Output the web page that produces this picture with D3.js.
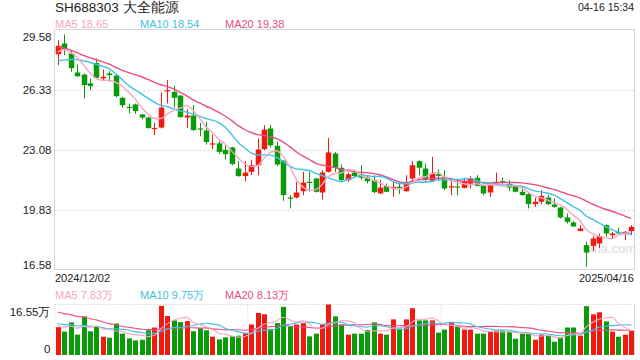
<!DOCTYPE html>
<html><head><meta charset="utf-8">
<script src="https://cdn.jsdelivr.net/npm/d3@7/dist/d3.min.js"></script>
<style>
html,body{margin:0;padding:0;background:#fff;}
svg{display:block;font-family:Arial,"Liberation Sans",sans-serif;}
</style></head>
<body><svg id="c" width="640" height="360"></svg>
<script>
const title = "SH688303 大全能源";
const timeStamp = "04-16 15:34";
const dates = ["2024/12/02","2024/12/03","2024/12/04","2024/12/05","2024/12/06","2024/12/09","2024/12/10","2024/12/11","2024/12/12","2024/12/13","2024/12/16","2024/12/17","2024/12/18","2024/12/19","2024/12/20","2024/12/23","2024/12/24","2024/12/25","2024/12/26","2024/12/27","2024/12/30","2024/12/31",
"2025/01/02","2025/01/03","2025/01/06","2025/01/07","2025/01/08","2025/01/09","2025/01/10","2025/01/13","2025/01/14","2025/01/15","2025/01/16","2025/01/17","2025/01/20","2025/01/21","2025/01/22","2025/01/23","2025/01/24","2025/01/27",
"2025/02/05","2025/02/06","2025/02/07","2025/02/10","2025/02/11","2025/02/12","2025/02/13","2025/02/14","2025/02/17","2025/02/18","2025/02/19","2025/02/20","2025/02/21","2025/02/24","2025/02/25","2025/02/26","2025/02/27","2025/02/28",
"2025/03/03","2025/03/04","2025/03/05","2025/03/06","2025/03/07","2025/03/10","2025/03/11","2025/03/12","2025/03/13","2025/03/14","2025/03/17","2025/03/18","2025/03/19","2025/03/20","2025/03/21","2025/03/24","2025/03/25","2025/03/26","2025/03/27","2025/03/28","2025/03/31",
"2025/04/01","2025/04/02","2025/04/03","2025/04/07","2025/04/08","2025/04/09","2025/04/10","2025/04/11","2025/04/14","2025/04/15","2025/04/16"];
const open = [28.24,28.82,28.28,27.25,27.14,26.66,27.77,26.93,27.20,27.09,25.88,25.39,25.52,24.98,24.81,24.20,24.27,26.24,26.20,26.00,
24.81,24.92,24.22,24.11,23.35,23.41,23.06,23.19,22.05,21.64,21.87,22.23,23.10,24.22,23.28,22.47,20.48,20.48,20.82,21.33,
21.51,20.75,21.87,22.86,22.09,21.42,21.83,21.73,21.56,21.42,20.70,21.11,20.97,21.06,20.82,21.51,22.45,22.05,21.38,21.74,
21.60,21.02,21.08,21.00,21.15,21.55,21.15,20.75,21.29,21.37,21.22,21.11,20.79,20.66,20.12,20.25,20.48,20.10,19.94,19.40,
19.13,18.66,17.90,17.86,17.99,18.98,18.44,18.60,18.58,18.66];
const high = [29.00,29.31,28.46,27.68,27.20,26.93,28.01,27.41,27.32,27.14,25.93,25.57,25.57,25.01,24.85,24.52,26.17,26.84,26.53,26.02,
25.26,25.48,24.52,24.58,23.89,23.53,23.31,23.22,22.45,22.45,22.50,23.68,24.40,24.40,23.50,22.50,20.61,21.33,21.87,21.87,
21.55,21.96,23.71,22.95,22.27,21.83,21.96,22.23,21.69,21.69,21.42,21.24,21.37,21.29,21.69,22.45,22.50,22.32,22.68,22.00,
21.96,21.42,21.42,21.55,21.64,21.69,21.18,21.18,21.82,21.55,21.42,21.11,21.06,20.73,20.46,20.88,20.61,20.43,19.97,19.61,
19.20,18.98,18.08,18.40,18.53,19.02,18.62,18.84,18.67,18.98];
const low = [27.65,28.19,27.29,27.02,25.84,26.29,26.93,26.78,26.75,25.90,25.34,25.03,25.01,24.72,24.22,23.86,24.22,25.57,25.35,24.81,
24.25,24.09,23.80,23.35,23.10,22.85,22.54,22.23,21.60,21.36,21.69,21.69,23.04,23.19,22.18,20.30,19.89,20.43,20.61,20.79,
20.75,20.37,21.83,21.87,21.33,21.33,21.55,21.42,21.24,20.71,20.66,20.77,20.52,20.66,20.79,21.22,21.69,21.33,21.33,21.37,
20.88,20.61,20.61,20.97,20.97,21.08,20.61,20.52,21.29,21.22,20.82,20.75,20.57,19.89,19.97,20.12,20.07,19.92,19.34,19.07,
18.91,18.66,16.72,17.57,17.75,18.35,18.26,18.53,18.17,18.44];
const close = [28.70,28.51,27.49,27.05,26.57,26.51,26.96,27.02,27.11,25.97,25.48,25.34,25.16,24.81,24.24,24.25,25.35,26.29,25.88,24.83,
24.92,24.13,24.16,23.48,23.41,22.95,22.83,22.29,21.64,21.83,22.23,23.08,24.16,23.31,22.27,20.61,20.43,20.75,21.29,21.27,
20.79,21.83,22.92,22.09,21.42,21.74,21.64,21.55,21.36,20.77,21.02,20.79,21.06,21.00,21.29,22.23,22.09,21.42,21.78,21.65,
20.97,21.09,21.02,21.38,21.51,21.11,20.70,21.15,21.33,21.29,21.02,20.79,20.61,20.12,20.25,20.57,20.12,19.97,19.40,19.16,
18.91,18.80,17.50,18.26,18.39,18.53,18.53,18.57,18.62,18.89];
// volume, unit 万手
const volume = [9.11,7.67,10.67,6.67,12.67,7.78,9.55,6.00,5.67,10.33,7.00,5.44,4.78,5.00,8.11,9.00,16.11,12.78,11.33,10.78,
11.11,7.78,8.78,8.11,6.00,5.11,5.78,6.11,6.33,7.11,10.00,13.78,13.33,8.55,10.44,15.78,9.33,10.00,10.44,6.11,
7.00,10.00,16.55,12.67,10.00,6.67,7.00,7.00,8.22,10.67,7.00,6.67,11.67,8.67,11.67,15.33,11.33,11.33,11.33,7.33,
8.33,10.67,9.33,8.33,8.33,7.00,7.00,7.67,8.00,8.00,7.67,5.33,7.00,7.00,5.00,6.67,6.33,4.33,5.67,9.00,
9.00,6.33,16.00,13.33,14.00,11.00,7.67,6.00,6.67,8.00];
// sessions before 2024/12/02, estimated from where the MA lines start
const prevCloses = [29.8,29.6,29.9,29.5,29.2,29.0,29.3,29.6,29.4,28.7,27.9,27.3,27.1,27.2,27.45,27.9,28.2,28.4,28.6];
const prevVolumes = [18.5,17.2,19.0,16.8,18.1,17.5,18.9,17.0,18.3,17.7,11.2,10.5,11.4,10.6,10.9,10.2,9.6,9.9,9.7];
const priceTicks = [29.58,26.33,23.08,19.83,16.58];
const volTicks = [16.55,0];
const maPeriods = [5,10,20];
const maLegend = ["18.65","18.54","19.38"];
const volMaLegend = ["7.83万","9.75万","8.13万"];

const maColors = ["#f7a5c4","#3fc3e4","#ea4c84"];
const upColor = "#f2190f", downColor = "#0a9a0a";

const svg = d3.select("#c");
const L = 54.5, R = 634.5, T = 29.5, B = 269.5;
const VT = 304.5, VB = 355;

const idx = d3.range(close.length);
const x = d3.scaleBand().domain(idx).range([L, R]).paddingInner(0.2).paddingOuter(0.1);
const cx = i => x(i) + x.bandwidth()/2;
const y = d3.scaleLinear().domain([priceTicks[4], priceTicks[0]]).range([B, T]);
const yv = d3.scaleLinear().domain([0, volTicks[0]]).range([VB, VT]);

function movingAvg(prev, arr, n){
  const all = prev.concat(arr);
  const off = prev.length;
  return arr.map((_, i) => d3.mean(all.slice(off + i - n + 1, off + i + 1)));
}

// header
svg.append("text").attr("x", 55).attr("y", 12).attr("font-size", 13.5).attr("fill", "#222").text(title);
svg.append("text").attr("x", 634).attr("y", 11).attr("text-anchor","end").attr("font-size", 10.5).attr("fill", "#222").text(timeStamp);
const legX = [55, 140, 225];
maPeriods.forEach((p, k) => {
  svg.append("text").attr("x", legX[k]).attr("y", 27.5).attr("font-size", 11).attr("fill", maColors[k]).text("MA" + p + " " + maLegend[k]);
  svg.append("text").attr("x", legX[k]).attr("y", 299).attr("font-size", 11).attr("fill", maColors[k]).text("MA" + p + " " + volMaLegend[k]);
});

// price grid
const yAxis = d3.axisLeft(y).tickValues(priceTicks).tickSize(0).tickFormat(d3.format(".2f"));
const gy = svg.append("g").attr("transform", `translate(${L},0)`).call(yAxis);
gy.select(".domain").remove();
gy.selectAll("text").attr("font-size", 11.5).attr("fill", "#222").attr("x", -3)
  .attr("dy", (d, i) => i === 0 ? "0.95em" : (i === priceTicks.length - 1 ? "-0.1em" : "0.32em"))
  .style("font-family", "Arial,'Liberation Sans',sans-serif");
svg.append("g").selectAll("line").data(priceTicks.slice(1, 4)).join("line")
  .attr("x1", L + 1).attr("x2", R - 1).attr("y1", d => Math.round(y(d)) + 0.5).attr("y2", d => Math.round(y(d)) + 0.5)
  .attr("stroke", "#e2e2e2").attr("stroke-width", 1.3).attr("stroke-dasharray", "2,2");
svg.append("rect").attr("x", L).attr("y", T).attr("width", R - L).attr("height", B - T)
  .attr("fill", "none").attr("stroke", "#d6d6d6").attr("stroke-width", 1);

// watermark
svg.append("text").attr("x", 584).attr("y", 253).attr("font-size", 13).attr("fill", "#d9d9d9").text("sina.com");

// candles
const g = svg.append("g");
g.selectAll("line.w").data(idx).join("line").attr("class","w")
  .attr("x1", i => Math.round(cx(i)) + 0.5).attr("x2", i => Math.round(cx(i)) + 0.5)
  .attr("y1", i => y(high[i])).attr("y2", i => y(low[i]))
  .attr("stroke", i => close[i] >= open[i] ? upColor : downColor).attr("stroke-width", 1);
g.selectAll("rect.b").data(idx).join("rect").attr("class","b")
  .attr("x", i => Math.round(cx(i)) + 0.5 - 2.75).attr("width", 5.5)
  .attr("y", i => y(Math.max(open[i], close[i])))
  .attr("height", i => Math.max(1.2, Math.abs(y(open[i]) - y(close[i]))))
  .attr("fill", i => close[i] >= open[i] ? upColor : downColor);

// MA lines
maPeriods.slice().reverse().forEach((p, kk) => {
  const k = maPeriods.length - 1 - kk;
  const ma = movingAvg(prevCloses, close, p);
  svg.append("path").datum(ma).attr("fill","none").attr("stroke", maColors[k]).attr("stroke-width", 1.4)
    .attr("d", d3.line().x((d, i) => cx(i)).y(d => y(d)).curve(d3.curveMonotoneX));
});

// x labels
svg.append("text").attr("x", 55).attr("y", 282).attr("font-size", 11).attr("fill", "#222").text(dates[0]);
svg.append("text").attr("x", 634).attr("y", 282).attr("text-anchor","end").attr("font-size", 11).attr("fill", "#222").text(dates[dates.length-1]);

// volume panel
svg.append("line").attr("x1", L).attr("x2", R).attr("y1", VT).attr("y2", VT)
  .attr("stroke", "#d8d8d8").attr("stroke-dasharray", "1.5,1.5");
[1/3, 2/3].forEach(f => {
  svg.append("line").attr("x1", L + (R-L)*f).attr("x2", L + (R-L)*f).attr("y1", VT).attr("y2", VB)
    .attr("stroke", "#d8d8d8").attr("stroke-dasharray", "1.5,1.5");
});
svg.append("line").attr("x1", R).attr("x2", R).attr("y1", VT).attr("y2", VB).attr("stroke", "#d6d6d6");
svg.append("line").attr("x1", L).attr("x2", L).attr("y1", VT).attr("y2", VB).attr("stroke", "#e2e2e2").attr("stroke-dasharray", "1.5,1.5");

const vAxis = d3.axisLeft(yv).tickValues(volTicks).tickSize(0).tickFormat(d => d === 0 ? "0" : d3.format(".2f")(d) + "万");
const gv = svg.append("g").attr("transform", `translate(${L},0)`).call(vAxis);
gv.select(".domain").remove();
gv.selectAll("text").attr("font-size", 11.5).attr("fill", "#222").attr("x", -4)
  .attr("dy", d => d === 0 ? "-0.2em" : "0.95em")
  .style("font-family", "Arial,'Liberation Sans',sans-serif");

svg.append("g").selectAll("rect").data(idx).join("rect")
  .attr("x", i => Math.round(cx(i)) + 0.5 - 2.5).attr("width", 5)
  .attr("y", i => yv(volume[i])).attr("height", i => VB - yv(volume[i]))
  .attr("fill", i => close[i] >= open[i] ? upColor : downColor);

maPeriods.slice().reverse().forEach((p, kk) => {
  const k = maPeriods.length - 1 - kk;
  const ma = movingAvg(prevVolumes, volume, p);
  svg.append("path").datum(ma).attr("fill","none").attr("stroke", maColors[k]).attr("stroke-width", 1.1)
    .attr("d", d3.line().x((d, i) => cx(i)).y(d => yv(d)).curve(d3.curveMonotoneX));
});
</script></body></html>
